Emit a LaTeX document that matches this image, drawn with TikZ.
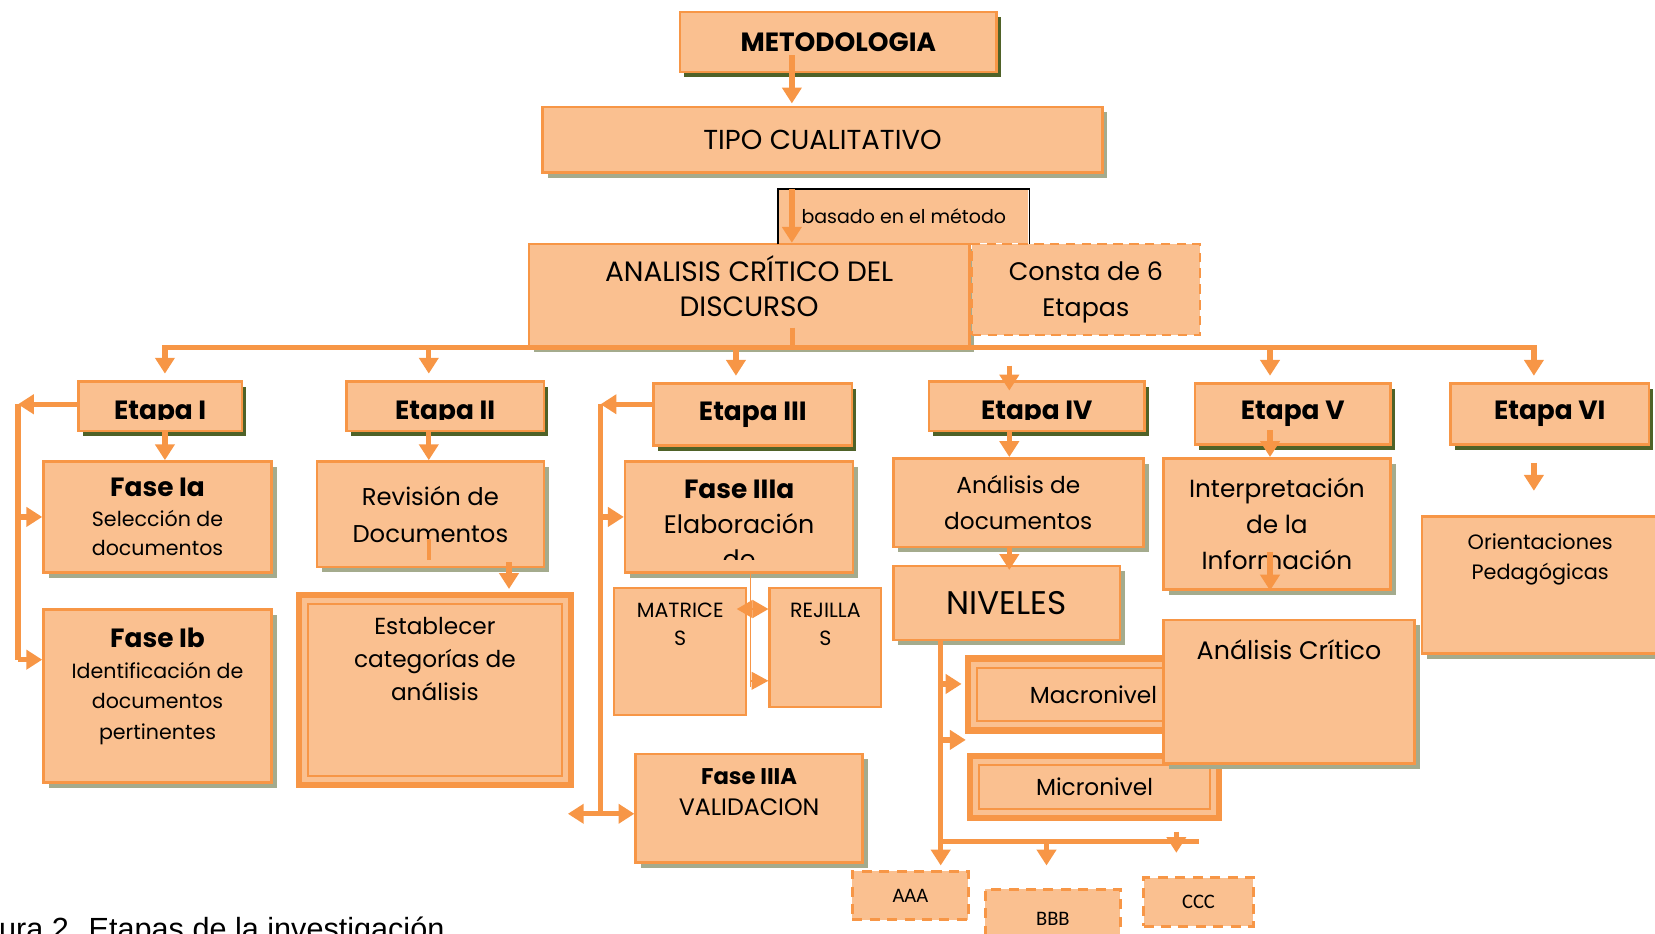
\documentclass[tikz,border=0pt]{standalone}
\usepackage{fontspec}
\setmainfont{Poppins}
\setsansfont{Liberation Sans}
\newfontfamily\calibri{Carlito}
\usepackage{tikz}
\usetikzlibrary{arrows.meta,positioning,shadows}

\definecolor{melon}{HTML}{FAC090}
\definecolor{naranja}{HTML}{F79646}
\definecolor{olivo}{HTML}{4F6228}
\definecolor{grisverde}{HTML}{A4AB8D}
\newcommand{\tam}[2]{\fontsize{#1}{#2}\selectfont}

\begin{document}
\begin{tikzpicture}[x=1pt, y=-1pt]
\tikzstyle{caja} = [draw=naranja, line width=2.5pt, fill=melon, inner sep=0pt, anchor=north west, align=center]
\tikzstyle{sombra} = [caja, drop shadow={shadow xshift=5pt, shadow yshift=-5pt, fill=grisverde, opacity=1}]
\tikzstyle{etapa} = [caja, drop shadow={shadow xshift=4pt, shadow yshift=-5pt, fill=olivo, opacity=1}, font=\tam{25}{28}\bfseries]
\tikzstyle{doble} = [caja, line width=6pt, path picture={\draw[naranja, line width=2pt] ([shift={(8.5pt,-8.5pt)}]path picture bounding box.north west) rectangle ([shift={(-8.5pt,8.5pt)}]path picture bounding box.south east);}]
\tikzstyle{punteado} = [caja, line width=3pt, dash pattern=on 9.5pt off 7pt, font=\calibri\tam{19.5}{22}]
\tikzstyle{texto} = [inner sep=0pt, align=center]
\tikzstyle{flecha} = [draw=naranja, line width=5pt, -{Triangle[width=18pt, length=15pt]}]
\tikzstyle{flechas} = [flecha, {Triangle[width=18pt, length=15pt]}-{Triangle[width=18pt, length=15pt]}]
\tikzstyle{linea} = [draw=naranja, line width=5pt]
\tikzstyle{fina} = [draw=naranja, line width=1.5pt]

\useasboundingbox (0,0) rectangle (1568,884);

% cabecera
\node[etapa, minimum width=300, minimum height=57] (metodo) at (643,10) {METODOLOGIA};
\node[sombra, minimum width=530, minimum height=62, font=\tam{26}{30}] (tipo) at (513,100) {TIPO CUALITATIVO};
\node[sombra, minimum width=417, minimum height=97] (acd) at (500,230) {};
\node[texto, font=\tam{26.5}{33}, below=12pt of acd.north] (acdT) {ANALISIS CRÍTICO DEL\\DISCURSO};
\node[punteado, line width=2.5pt, dash pattern=on 9pt off 6pt, minimum width=216, minimum height=86, right=0pt of acd.north east, anchor=north west] (consta) {};
\node[texto, font=\tam{24}{34}, below=18pt of consta.north] (constaT) {Consta de 6\\Etapas};
\node[caja, draw=none, minimum width=236, minimum height=50, font=\tam{18}{22}] (basado) at (737,179) {basado en el método};
\draw[black, line width=1.5pt] (basado.south west) -- (basado.north west) -- (basado.north east) -- (basado.south east);

% etapas
\node[etapa, minimum width=155, minimum height=47] (e1) at (73,360) {};
\node[etapa, minimum width=187, minimum height=47] (e2) at (327,360) {};
\node[etapa, minimum width=188, minimum height=59] (e3) at (618,362) {Etapa III};
\node[etapa, minimum width=204, minimum height=47] (e4) at (879,360) {};
\node[etapa, minimum width=185, minimum height=58] (e5) at (1131,362) {Etapa V};
\node[etapa, minimum width=188, minimum height=58] (e6) at (1373,362) {Etapa VI};
\foreach \et/\nombre in {e1/Etapa I, e2/Etapa II, e4/Etapa IV}{
  \begin{scope}
  \clip (\et.north west) rectangle ([yshift=12pt]\et.south east);
  \node[texto, font=\tam{25}{28}\bfseries, anchor=base] (\et T) at ([yshift=12.5pt]\et.south) {\nombre};
  \end{scope}
}

% columna I
\node[sombra, minimum width=216, minimum height=105, font=\tam{19.5}{28}] (faseIa) at (40,436) {{\tam{25}{30}\bfseries Fase Ia}\\Selección de\\documentos};
\node[sombra, minimum width=216, minimum height=164] (faseIb) at (40,576) {};
\node[texto, font=\tam{19.5}{29}, below=19pt of faseIb.north] (faseIbT) {{\tam{25}{30}\bfseries Fase Ib}\\Identificación de\\documentos\\pertinentes};

% columna II
\node[sombra, minimum width=215, minimum height=100, font=\tam{23}{35}] (revision) at (299,436) {Revisión de\\Documentos};
\node[doble, minimum width=258, minimum height=180] (establecer) at (280,561) {};
\node[texto, font=\tam{22}{31}, below=24pt of establecer.north] (establecerT) {Establecer\\categorías de\\análisis};

% columna III
\node[sombra, minimum width=216, minimum height=105] (faseIIIa) at (591,436) {};
\begin{scope}
\clip (faseIIIa.north west) rectangle ([yshift=13pt]faseIIIa.south east);
\node[texto, font=\tam{24}{33}, below=19pt of faseIIIa.north] (faseIIIaT) {{\tam{25}{30}\bfseries Fase IIIa}\\Elaboración\\de};
\end{scope}
\node[caja, line width=2pt, minimum width=125, minimum height=120] (matrices) at (581,556) {};
\node[texto, font=\tam{19.5}{27}, below=15pt of matrices.north] (matricesT) {MATRICE\\S};
\node[caja, line width=2pt, minimum width=106, minimum height=113] (rejillas) at (728,556) {};
\node[texto, font=\tam{19.5}{27}, below=15pt of rejillas.north] (rejillasT) {REJILLA\\S};
\node[sombra, minimum width=215, minimum height=103] (faseIIIA) at (601,713) {};
\node[texto, font=\tam{22.5}{29}, below=15pt of faseIIIA.north] (faseIIIAT) {{\tam{21.5}{29}\bfseries Fase IIIA}\\VALIDACION};

% columna IV
\node[sombra, minimum width=237, minimum height=84, font=\tam{22}{34}] (anadoc) at (845,433) {Análisis de\\documentos};
\node[sombra, minimum width=215, minimum height=70, font=\tam{31}{34}] (niveles) at (845,535) {NIVELES};
\node[doble, minimum width=238, minimum height=68, font=\tam{22}{26}] (macro) at (914,621) {Macronivel};
\node[doble, minimum width=236, minimum height=59, font=\tam{22}{26}] (micro) at (916,713) {Micronivel};
\node[punteado, minimum width=110, minimum height=46] (aaa) at (806,824) {AAA};
\node[punteado, minimum width=128, minimum height=56] (bbb) at (932,841) {BBB};
\node[punteado, minimum width=104, minimum height=46] (ccc) at (1082,830) {CCC};

% columna V
\node[sombra, minimum width=215, minimum height=124, font=\tam{23.5}{34}] (interp) at (1101,433) {Interpretación\\de la\\Información};
\node[sombra, minimum width=238, minimum height=136] (critico) at (1101,586) {};
\node[texto, font=\tam{24}{30}, below=20pt of critico.north] (criticoT) {Análisis Crítico};

% columna VI
\node[sombra, minimum width=224, minimum height=130] (orient) at (1346,488) {};
\node[texto, font=\tam{19.7}{29}, below=17pt of orient.north] (orientT) {Orientaciones\\Pedagógicas};

% pie
\node[texto, anchor=base west, font=\sffamily\tam{29}{32}] (pie) at (-1,890) {ura 2. Etapas de la investigación};

% conectores
\draw[flecha] ([xshift=-44pt, yshift=17pt]metodo.south) -- ([xshift=-44pt, yshift=2pt]metodo.south |- tipo.north);
\draw[flecha] ([xshift=-106pt]basado.north) -- ([xshift=-106pt]basado.north |- acd.north);
\draw[linea] ([xshift=41pt, yshift=19pt]acd.south) -- ([xshift=41pt]acd.south);
\draw[linea, line cap=rect] ([xshift=7pt]faseIa.north |- acd.south) -- ([xshift=-6pt]orient.north |- acd.south);
\foreach \caja/\et/\dx in {faseIa/e1/7, revision/e2/-1.5, faseIIIa/e3/-3, interp/e5/-6.5, orient/e6/-6}
  \draw[flecha] ([xshift=\dx pt]\caja.north |- acd.south) -- ([xshift=\dx pt, yshift=6pt]\caja.north |- \et.north);
\draw[flecha] ([xshift=-8.5pt, yshift=-17pt]anadoc.north |- acd.south) -- ([xshift=-8.5pt, yshift=-10pt]anadoc.north |- e4.north);
\foreach \et/\caja/\dx in {e1/faseIa/7, e2/revision/-1.5, e4/anadoc/-8.5}
  \draw[flecha] ([xshift=\dx pt]\caja.north |- \et.south) -- ([xshift=\dx pt]\caja.north);
\draw[flecha] ([xshift=-6.5pt, yshift=15pt]interp.north |- e5.south) -- ([xshift=-6.5pt]interp.north);
\draw[flecha] ([xshift=-6pt, yshift=-16pt]orient.north |- e6.south) -- ([xshift=-6pt, yshift=23pt]orient.north);

% corchete etapa I
\coordinate (lomo1) at (17,383);
\coordinate (lomo1b) at (17,625);
\draw[flecha] (e1.west |- lomo1) -- (lomo1);
\draw[linea] (lomo1) -- (lomo1b);
\draw[flecha] (lomo1 |- faseIa.west) -- (faseIa.west);
\draw[flecha] (lomo1b) -- (lomo1b -| faseIb.west);

% etapa II
\draw[linea, line width=4pt] ([xshift=-1.5pt, yshift=8pt]revision.south) -- ([xshift=-1.5pt, yshift=28pt]revision.south);
\draw[flecha] ([xshift=74.5pt, yshift=6pt]revision.south) -- ([xshift=74.5pt, yshift=3pt]revision.south |- establecer.north);

% corchete etapa III
\coordinate (lomo3) at (569,383);
\coordinate (lomo3b) at (569,771);
\coordinate (izq3) at (538,771);
\draw[flecha] (e3.west |- lomo3) -- (lomo3);
\draw[linea] (lomo3) -- (lomo3b);
\draw[flecha] (lomo3 |- faseIIIa.west) -- (faseIIIa.west);
\draw[flechas] (izq3) -- (izq3 -| faseIIIA.west);
\coordinate (guia) at (711,577);
\coordinate (guiab) at (711,645);
\draw[fina] (guia |- faseIIIa.south) -- ([yshift=-6pt]guiab);
\draw[fina, {Triangle[width=17pt, length=15pt]}-{Triangle[width=17pt, length=15pt]}] ([xshift=-10pt]guia -| matrices.east) -- (guia -| rejillas.west);
\draw[fina, -{Triangle[width=17pt, length=16pt]}] (guiab) -- (guiab -| rejillas.west);

% etapa IV
\draw[flecha] ([xshift=-8.5pt]anadoc.south) -- ([xshift=-8.5pt, yshift=-5pt]anadoc.south |- niveles.north);
\draw[flecha] ([xshift=-62.5pt]niveles.south) -- ([xshift=-62.5pt, yshift=4pt]niveles.south |- aaa.north);
\draw[flecha] ([xshift=-62.5pt, yshift=10pt]niveles.south |- macro.west) -- ([xshift=-3pt, yshift=10pt]macro.west);
\draw[flecha] ([xshift=-62.5pt, yshift=12pt]niveles.south |- micro.north) -- ([xshift=-1pt, yshift=12pt]micro.north west);
\draw[linea] ([xshift=-62.5pt, yshift=-19pt]niveles.south |- micro.south) -- ([yshift=-19pt]ccc.north |- micro.south);
\draw[flecha] ([xshift=-6pt, yshift=-19pt]bbb.north |- micro.south) -- ([xshift=-6pt, yshift=21pt]bbb.north);
\draw[flecha] ([xshift=-21pt, yshift=-10pt]ccc.north |- micro.south) -- ([xshift=-21pt, yshift=22pt]ccc.north);

% etapa V
\draw[flecha] ([xshift=-6.5pt, yshift=37pt]interp.south) -- ([xshift=-6.5pt]interp.south);
\end{tikzpicture}
\end{document}
